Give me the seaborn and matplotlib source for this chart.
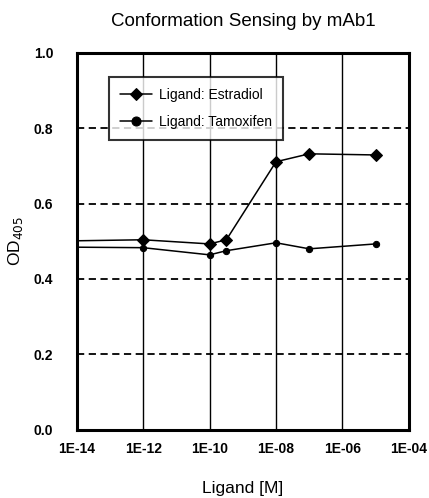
import matplotlib
matplotlib.use('Agg')
import matplotlib.pyplot as plt
import pandas as pd
import numpy as np
import seaborn as sns

# ligand concentration (M); first point lies left of the axis and is clipped
conc = [1e-15, 1e-12, 1e-10, 3.2e-10, 1e-08, 1e-07, 1e-05]
od_estradiol = [0.500, 0.504, 0.493, 0.504, 0.711, 0.732, 0.729]
od_tamoxifen = [0.485, 0.483, 0.464, 0.475, 0.496, 0.480, 0.493]
xticks = [1e-14, 1e-12, 1e-10, 1e-08, 1e-06, 1e-04]
xticklabels = ['1E-14', '1E-12', '1E-10', '1E-08', '1E-06', '1E-04']
yticks = [0.0, 0.2, 0.4, 0.6, 0.8, 1.0]

df = pd.DataFrame({'conc': conc + conc,
                   'od': od_estradiol + od_tamoxifen,
                   'ligand': ['Ligand: Estradiol'] * len(conc) + ['Ligand: Tamoxifen'] * len(conc)})

sns.set_style('white', {'text.color': 'black', 'axes.labelcolor': 'black',
                        'xtick.color': 'black', 'ytick.color': 'black'})
plt.rcParams['font.family'] = ['Liberation Sans', 'DejaVu Sans']

f = plt.figure(figsize=(4.29, 4.98), dpi=100)
ax = f.add_axes([0.179, 0.137, 0.774, 0.757])

sns.lineplot(data=df, x='conc', y='od', hue='ligand', style='ligand',
             markers={'Ligand: Estradiol': 'D', 'Ligand: Tamoxifen': 'o'},
             dashes=False, palette=['black', 'black'], linewidth=1.1,
             markersize=6.5, markeredgecolor='black', ax=ax)
# smaller circles for tamoxifen
for line in ax.get_lines()[1:2]:
    line.set_markersize(4.5)

ax.set_xscale('log')
ax.set_xlim(1e-14, 1e-04)
ax.set_ylim(0.0, 1.0)
ax.set_xticks(xticks)
ax.set_xticklabels(xticklabels)
ax.set_yticks(yticks)
ax.set_yticklabels(['%.1f' % v for v in yticks])
ax.minorticks_off()

for x in xticks[1:-1]:
    ax.axvline(x, color='black', lw=1.0, zorder=0)
for y in yticks[1:-1]:
    ax.axhline(y, color='black', lw=1.3, ls=(0, (4, 2.5)), zorder=0)

for s in ax.spines.values():
    s.set_linewidth(2.2)
    s.set_color('black')

ax.tick_params(axis='x', labelsize=10, length=0, pad=9, labelcolor='black')
ax.tick_params(axis='y', labelsize=10, length=0, pad=17, labelcolor='black')
for lab in ax.get_xticklabels() + ax.get_yticklabels():
    lab.set_fontweight('bold')

ax.set_title('Conformation Sensing by mAb1', fontsize=13.5, pad=19, color='black')
ax.set_xlabel('Ligand [M]', fontsize=12.5, labelpad=18, color='black')
ax.set_ylabel(r'OD$_{405}$', fontsize=12.5, labelpad=6, color='black')

leg = ax.legend(loc='upper left', bbox_to_anchor=(0.075, 0.955), fontsize=10,
                frameon=True, fancybox=False, edgecolor='black',
                handlelength=2.3, borderpad=0.8, labelspacing=0.95,
                handletextpad=0.5, borderaxespad=0.5)
leg.get_frame().set_linewidth(1.5)
for t in leg.get_texts():
    t.set_color('black')
leg.set_title(None)

plt.savefig('out.png', dpi=100)
